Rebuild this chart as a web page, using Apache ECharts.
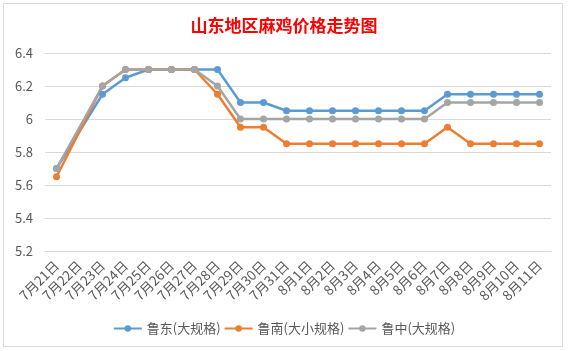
<!DOCTYPE html>
<html><head><meta charset="utf-8">
<script src="https://cdn.jsdelivr.net/npm/echarts@6/dist/echarts.min.js"></script>
<style>
html,body{margin:0;padding:0;background:#fff;}
#frame{position:absolute;left:3px;top:3px;width:560px;height:344px;border:1px solid #d9d9d9;box-sizing:border-box;}
#c{position:absolute;left:0;top:0;width:568px;height:351px;}
</style></head>
<body>
<div id="frame"></div>
<div id="c"></div>
<script>
const categories = ['7月21日','7月22日','7月23日','7月24日','7月25日','7月26日','7月27日','7月28日','7月29日','7月30日','7月31日','8月1日','8月2日','8月3日','8月4日','8月5日','8月6日','8月7日','8月8日','8月9日','8月10日','8月11日'];
const ludong = [5.7,null,6.15,6.25,6.3,6.3,6.3,6.3,6.1,6.1,6.05,6.05,6.05,6.05,6.05,6.05,6.05,6.15,6.15,6.15,6.15,6.15];
const lunan = [5.65,null,6.2,6.3,6.3,6.3,6.3,6.15,5.95,5.95,5.85,5.85,5.85,5.85,5.85,5.85,5.85,5.95,5.85,5.85,5.85,5.85];
const luzhong = [5.7,null,6.2,6.3,6.3,6.3,6.3,6.2,6.0,6.0,6.0,6.0,6.0,6.0,6.0,6.0,6.0,6.1,6.1,6.1,6.1,6.1];
const seriesNames = ['鲁东(大规格)','鲁南(大小规格)','鲁中(大规格)'];
const colors = ['#5B9BD5','#ED7D31','#A5A5A5'];
const chart = echarts.init(document.getElementById('c'), null, {renderer:'canvas'});
const font = '"Noto Sans CJK SC","Microsoft YaHei",sans-serif';
function mk(name, data, color){
  return {name, type:'line', data, connectNulls:true, symbol:'circle', symbolSize:7,
    itemStyle:{color}, lineStyle:{color, width:2.5}};
}
chart.setOption({
  animation:false,
  title:{text:'山东地区麻鸡价格走势图', left:'center', top:12,
    textStyle:{color:'#FF0000', fontSize:17, fontWeight:'bold', fontFamily:font}},
  grid:{left:45, right:17, top:53, bottom:100},
  legend:{bottom:11, left:'center', itemWidth:28, itemHeight:8, itemGap:3,
    textStyle:{color:'#595959', fontSize:13, fontFamily:font},
    data:seriesNames},
  xAxis:{type:'category', data:categories, boundaryGap:true,
    axisLine:{lineStyle:{color:'#d9d9d9'}},
    axisTick:{lineStyle:{color:'#d9d9d9'}, length:5},
    axisLabel:{rotate:45, interval:0, color:'#595959', fontSize:13.5, fontFamily:font, margin:12}},
  yAxis:{type:'value', min:5.2, max:6.4, interval:0.2,
    axisLine:{show:false}, axisTick:{show:false},
    splitLine:{lineStyle:{color:'#d9d9d9'}},
    axisLabel:{color:'#595959', fontSize:13, fontFamily:font, margin:12,
      formatter:v=>String(+v.toFixed(1))}},
  series:[mk(seriesNames[0], ludong, colors[0]), mk(seriesNames[1], lunan, colors[1]), mk(seriesNames[2], luzhong, colors[2])]
});
</script>
</body></html>
